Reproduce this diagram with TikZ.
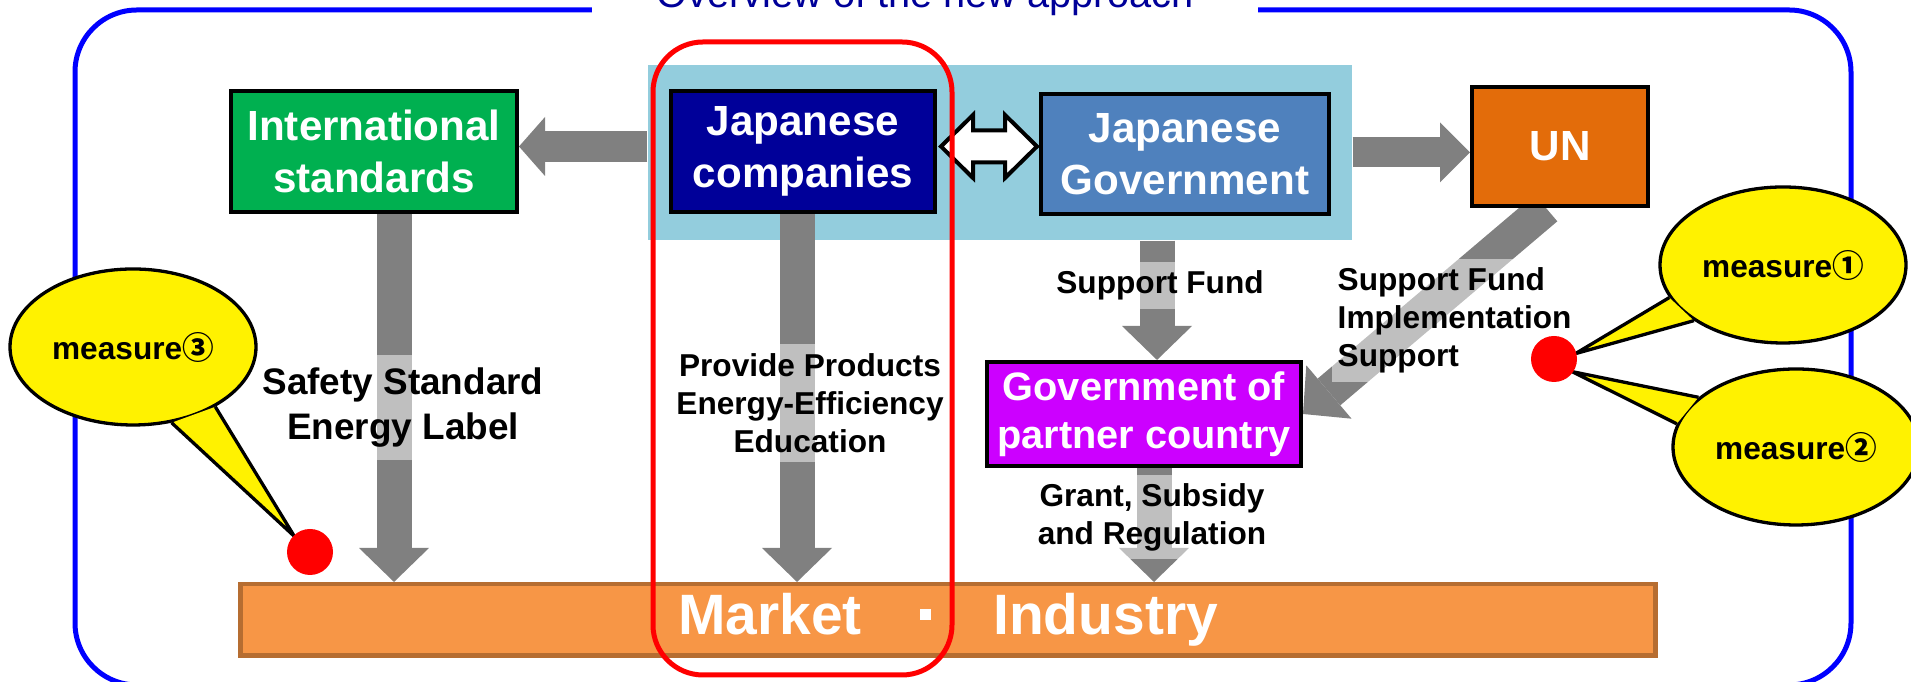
\documentclass[tikz,border=0pt]{standalone}
\usepackage{fontspec}
\setmainfont{Liberation Sans}
\newfontfamily\cjk{Noto Sans CJK JP}
\usetikzlibrary{arrows.meta, shapes.geometric, backgrounds}

\definecolor{FrameBlue}{RGB}{0,0,255}
\definecolor{TitleBlue}{RGB}{0,0,153}
\definecolor{PanelBlue}{RGB}{147,205,221}
\definecolor{CompanyBlue}{RGB}{0,0,153}
\definecolor{GovBlue}{RGB}{79,129,189}
\definecolor{StdGreen}{RGB}{0,176,80}
\definecolor{UNOrange}{RGB}{227,108,10}
\definecolor{PartnerPurple}{RGB}{204,0,255}
\definecolor{MarketOrange}{RGB}{247,150,70}
\definecolor{MarketEdge}{RGB}{182,109,49}
\definecolor{ArrowGray}{RGB}{128,128,128}

\begin{document}
\begin{tikzpicture}[x = 0.1mm, y = -0.1mm]
\tikzstyle{BoxStyle}=[draw, line width = 0.4mm,
                      text = white, align = center,
                      inner sep = 0pt,
                      font = \bfseries\fontsize{12}{14.8}\selectfont]
\tikzstyle{ArrowStyle}=[draw = ArrowGray, line width = 3.5mm,
                        -{Triangle[length = 3.4mm, width = 7mm, line width = 0pt]}]
\tikzstyle{LabelStyle}=[fill = white, fill opacity = 0.5, text opacity = 1,
                        align = center, inner xsep = 0.6mm,
                        font = \bfseries\fontsize{9}{10.8}\selectfont]
\tikzstyle{CalloutStyle}=[ellipse, draw, fill = yellow, line width = 0.33mm,
                          inner sep = 0pt,
                          minimum width = 24.6mm, minimum height = 15.6mm,
                          font = \bfseries\fontsize{9}{10.8}\selectfont]
\tikzstyle{DotStyle}=[circle, fill = red, inner sep = 0pt, minimum size = 4.6mm]

\useasboundingbox (0,0) rectangle (1911,682);

\begin{scope}[on background layer]
\draw[FrameBlue, line width = 0.5mm, rounded corners = 6.2mm] (75,10) rectangle (1851,685);
\node[fill = PanelBlue, inner sep = 0pt, minimum width = 70.4mm, minimum height = 17.5mm] (panel) at (1000,152.5) {};
\end{scope}

\node[fill = white, text = TitleBlue, anchor = base, inner xsep = 6.45mm, inner ysep = 0.5mm,
      font = \fontsize{11.3}{13}\selectfont] (title) at (925,8) {Overview of the new approach};

% actors
\node[BoxStyle, fill = StdGreen, minimum width = 28.6mm, minimum height = 12.1mm] (intl) at (374,151.5) {International\\standards};
\node[BoxStyle, fill = CompanyBlue, minimum width = 26.4mm, minimum height = 12.1mm] (jpco) at (803,151.5) {Japanese\\companies};
\node[BoxStyle, fill = GovBlue, minimum width = 28.8mm, minimum height = 12mm] (jpgov) at (1185,154) {Japanese\\Government};
\node[BoxStyle, fill = UNOrange, minimum width = 17.6mm, minimum height = 11.9mm] (un) at (1560,146.5) {UN};
\node[BoxStyle, fill = PartnerPurple, minimum width = 31.4mm, minimum height = 10.4mm,
      font = \bfseries\fontsize{11.3}{13.7}\selectfont] (partner) at (1144,414) {Government of\\partner country};
\node[draw = MarketEdge, fill = MarketOrange, line width = 0.45mm, inner sep = 0pt,
      minimum width = 141.5mm, minimum height = 7.15mm, text = white,
      font = \bfseries\fontsize{16.2}{19}\selectfont] (market) at (948,620)
      {Market\hspace{1.02em}\rule[0.26em]{0.2em}{0.2em}\hspace{1.09em}Industry};

% flows
\begin{scope}[on background layer]
\draw[ArrowStyle, line width = 3.1mm, -{Triangle[length = 2.6mm, width = 5.9mm, line width = 0pt]}]
     ([yshift = 0.6mm]panel.west) -- ([yshift = 0.6mm]panel.west -| intl.east);
\draw[ArrowStyle] ([xshift = 2mm]intl.south) -- ([xshift = 2mm]intl.south |- market.north);
\draw[ArrowStyle] ([xshift = -0.6mm]jpco.south) -- ([xshift = -0.6mm]jpco.south |- market.north);
\draw[ArrowStyle] ([xshift = 1.3mm]partner.north |- panel.south) -- ([xshift = 1.3mm]partner.north);
\draw[ArrowStyle] ([xshift = 1mm]partner.south) -- ([xshift = 1mm]partner.south |- market.north);
\draw[ArrowStyle, line width = 3mm, -{Triangle[length = 3mm, width = 6mm, line width = 0pt]}]
     (panel.east) -- (panel.east -| un.west);
\draw[ArrowStyle] ([xshift = -1.4mm]un.south) -- (partner.east);
\end{scope}

\path (jpco.east) -- (jpgov.west) coordinate[midway] (dblmid);
\draw[line width = 0.4mm, fill = white] ([shift = {(-47,-6.3)}]dblmid) -- ++(32,-31.5) -- ++(0,15.5) -- ++(32,0)
     -- ++(0,-15.5) -- ++(32,31.5) -- ++(-32,31.5) -- ++(0,-15.5) -- ++(-32,0) -- ++(0,15.5) -- cycle;

% flow labels
\node[LabelStyle, inner ysep = 1.25mm, font = \bfseries\fontsize{10.5}{12.8}\selectfont] (safety) at (403,407.5) {Safety Standard\\Energy Label};
\node[LabelStyle, inner ysep = 0.9mm] (provide) at (810,403) {Provide Products\\Energy-Efficiency\\Education};
\node[LabelStyle, inner ysep = 0.85mm] (fund) at (1160,285.5) {Support Fund};
\node[LabelStyle, inner ysep = 0.8mm] (grant) at (1152,517) {Grant, Subsidy\\and Regulation};
\node[LabelStyle, inner ysep = 0.9mm, align = left, anchor = north west] (support) at (1331,258) {Support Fund\\Implementation\\Support};

\draw[red, line width = 0.5mm, rounded corners = 5mm] (653,42) rectangle (952,675);

% measures
\coordinate (tipl) at (310,552);
\coordinate (tipr) at (1554,359);
\node[CalloutStyle] (m3) at (133,347) {measure{\cjk ③}};
\fill[yellow] (m3.-63) -- ([shift = {(135:2.2mm)}]tipl) -- (m3.-36) -- cycle;
\draw[line width = 0.33mm] (m3.-63) -- ([shift = {(135:2.2mm)}]tipl) -- (m3.-36);
\node[CalloutStyle] (m1) at (1783,265) {measure{\cjk ①}};
\fill[yellow] (m1.196) -- ([shift = {(14:2.2mm)}]tipr) -- (m1.212.6) -- cycle;
\draw[line width = 0.33mm] (m1.196) -- ([shift = {(14:2.2mm)}]tipr) -- (m1.212.6);
\node[CalloutStyle] (m2) at (1796,447) {measure{\cjk ②}};
\fill[yellow] (m2.169) -- ([shift = {(-35:2.2mm)}]tipr) -- (m2.153) -- cycle;
\draw[line width = 0.33mm] (m2.169) -- ([shift = {(-35:2.2mm)}]tipr) -- (m2.153);
\node[DotStyle] (dotl) at (tipl) {};
\node[DotStyle] (dotr) at (tipr) {};
\end{tikzpicture}
\end{document}
